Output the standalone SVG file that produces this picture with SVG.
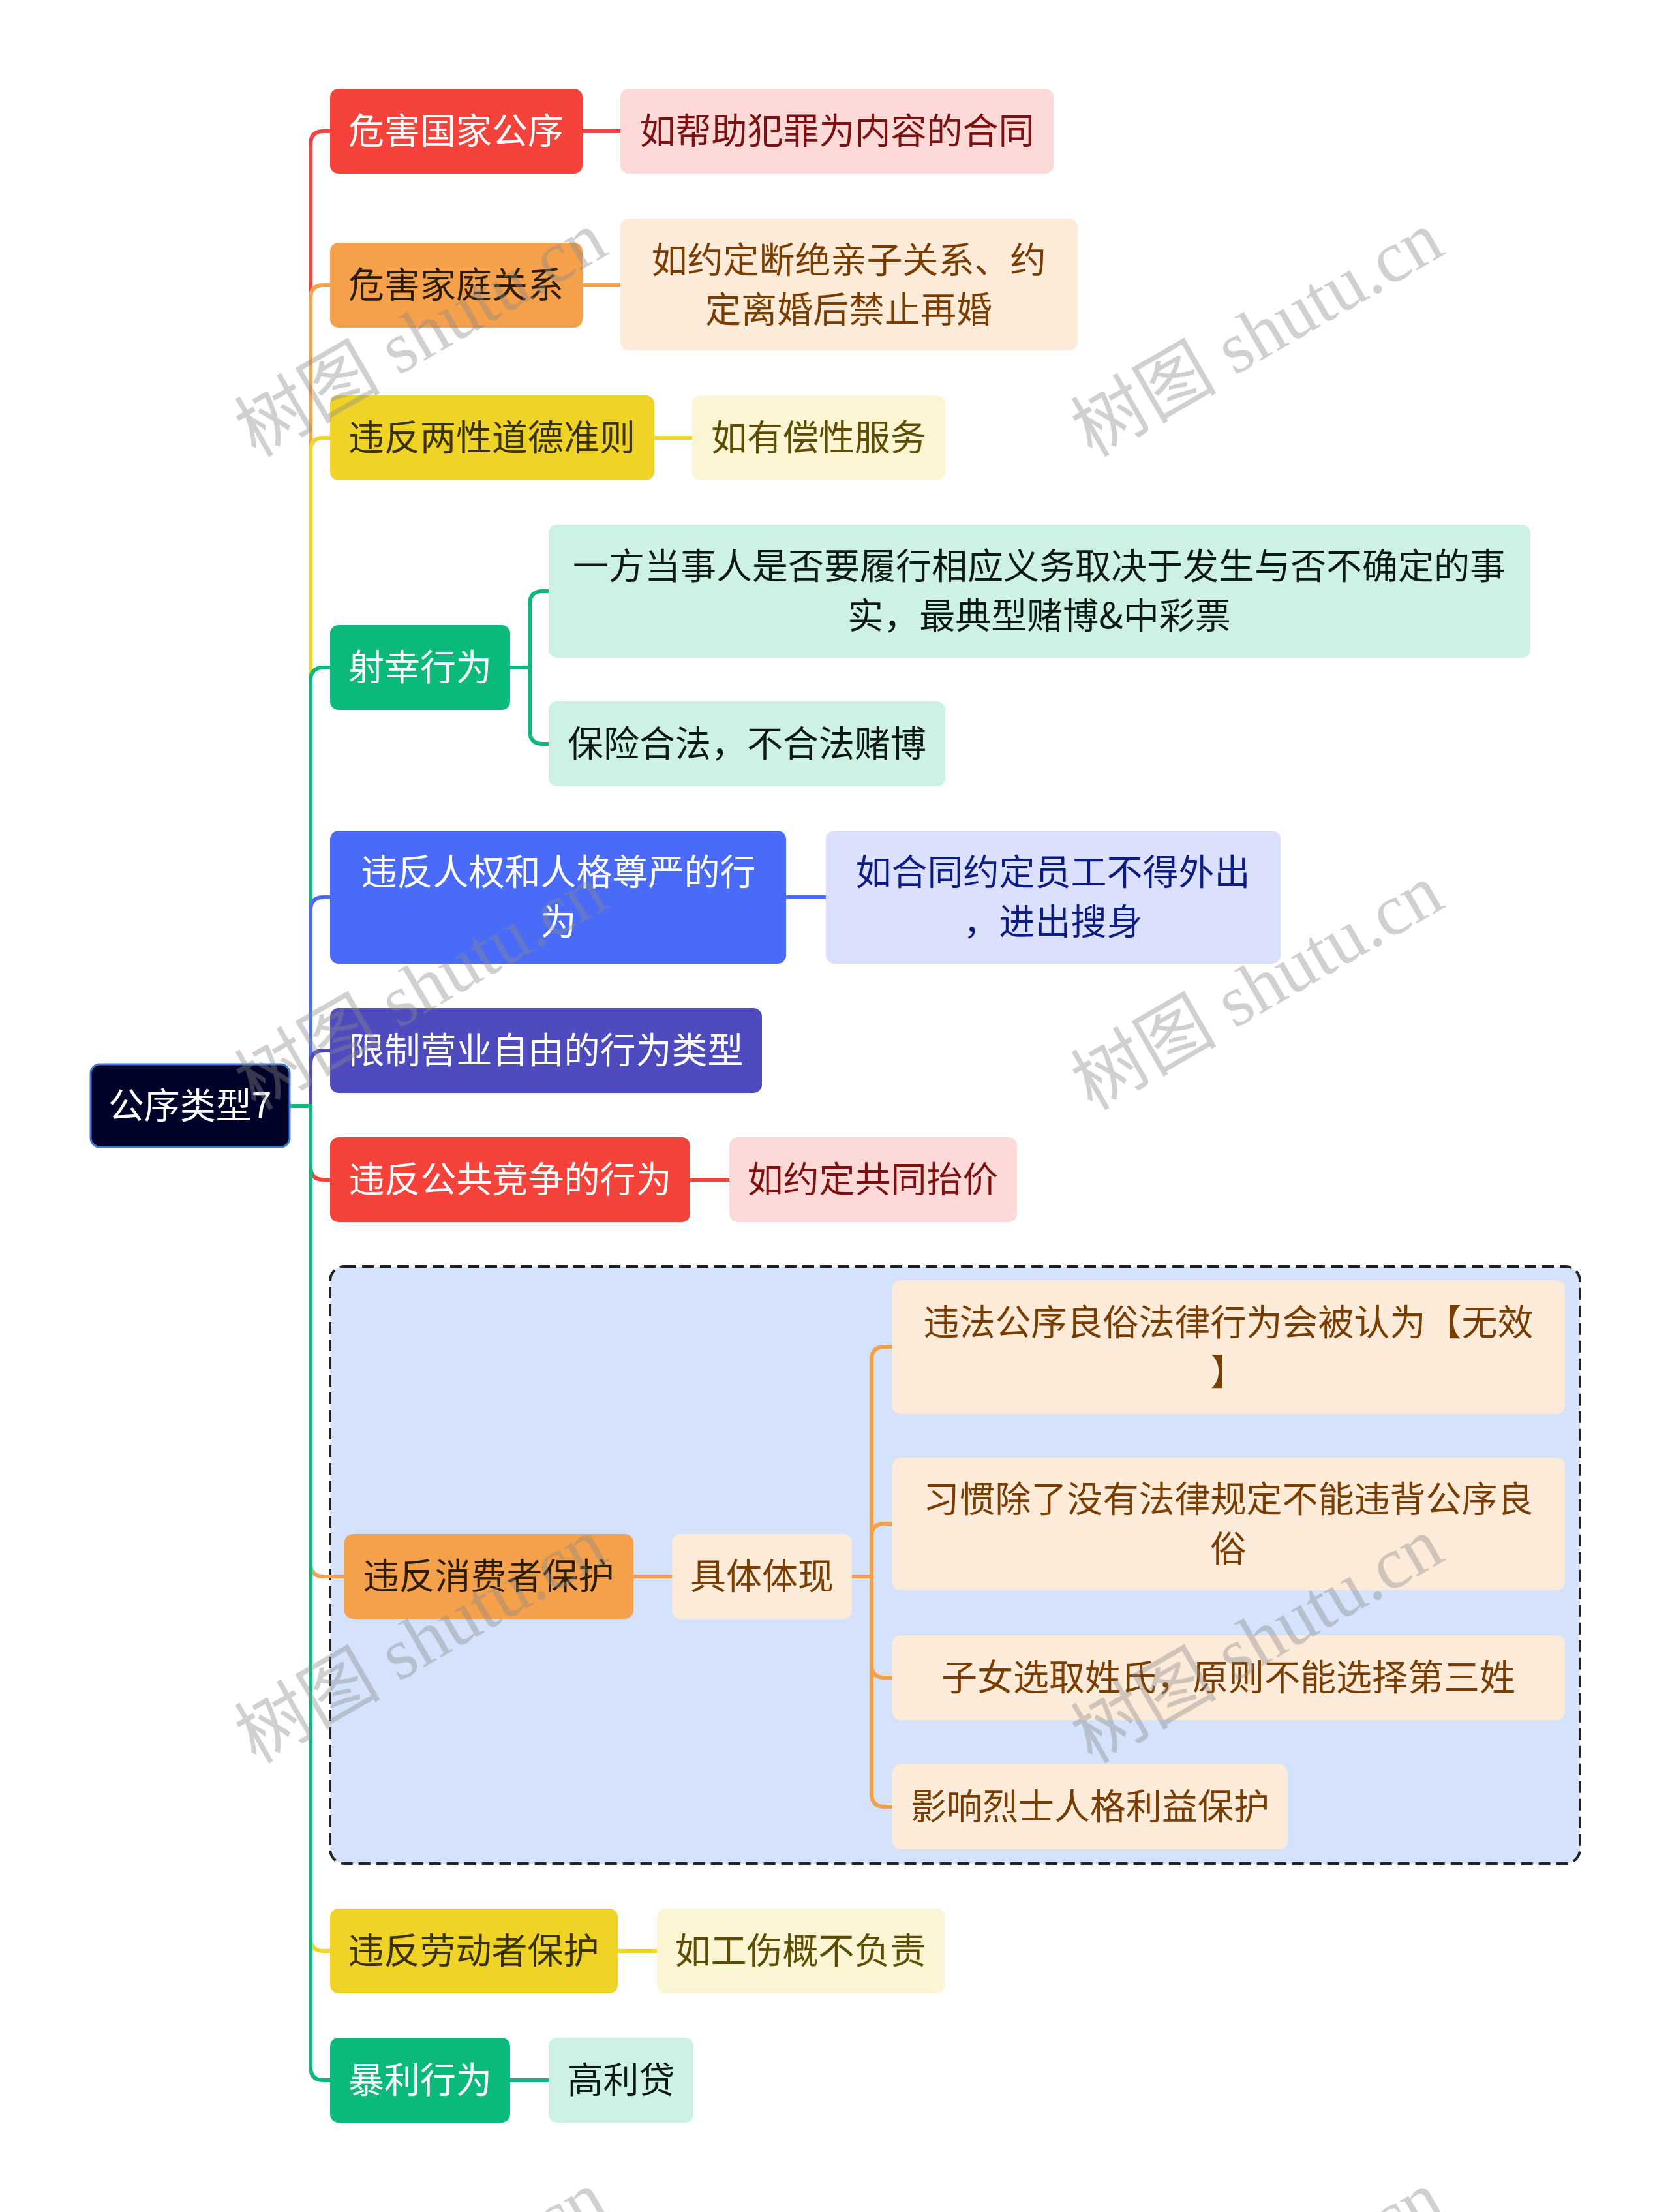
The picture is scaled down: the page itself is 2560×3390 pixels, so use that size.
<svg xmlns="http://www.w3.org/2000/svg" width="2560" height="3390" viewBox="0 0 2560 3390">
<style>
text{font-family:"Noto Sans CJK SC","Noto Sans",sans-serif;font-size:55px;text-anchor:middle;dominant-baseline:central}
.lk{fill:none;stroke-width:6;stroke-linejoin:round;stroke-linecap:butt}
.wm text{font-family:"Liberation Serif","Noto Sans CJK SC",serif;font-size:112px;fill:#8a8a8a;fill-opacity:0.4}
.w{fill:#fff}
</style>
<rect width="2560" height="3390" fill="#fff"/>

<g id="group-consumer">
<rect x="506" y="1941" width="1916" height="915" rx="22" fill="#d4e3fb" stroke="#222" stroke-width="4" stroke-dasharray="18 9"/>
</g>

<g id="connectors">
<path class="lk" stroke="#f5433b" d="M445 1695 H476 V221 Q476 201 496 201 H506"/>
<path class="lk" stroke="#f5433b" d="M893 201 H951"/>
<path class="lk" stroke="#f5a04b" d="M445 1695 H476 V457 Q476 437 496 437 H506"/>
<path class="lk" stroke="#f5a04b" d="M893 437 H951"/>
<path class="lk" stroke="#f0d327" d="M445 1695 H476 V691 Q476 671 496 671 H506"/>
<path class="lk" stroke="#f0d327" d="M1003 671 H1061"/>
<path class="lk" stroke="#0bb97a" d="M445 1695 H476 V1043 Q476 1023 496 1023 H506"/>
<path class="lk" stroke="#0bb97a" d="M782 1023 H812 V926 Q812 906 832 906 H841 M812 1023 V1120 Q812 1140 832 1140 H841"/>
<path class="lk" stroke="#4a6bf7" d="M445 1695 H476 V1395 Q476 1375 496 1375 H506"/>
<path class="lk" stroke="#4a6bf7" d="M1205 1375 H1266"/>
<path class="lk" stroke="#4e4bbe" d="M445 1695 H476 V1630 Q476 1610 496 1610 H506"/>
<path class="lk" stroke="#f5433b" d="M445 1695 H476 V1788 Q476 1808 496 1808 H506"/>
<path class="lk" stroke="#f5433b" d="M1058 1808 H1118"/>
<path class="lk" stroke="#f5a04b" d="M445 1695 H476 V2396 Q476 2416 496 2416 H528"/>
<path class="lk" stroke="#f5a04b" d="M971 2416 H1030"/>
<path class="lk" stroke="#f5a04b" d="M1306 2416 H1336 M1336 2416 V2084 Q1336 2064 1356 2064 H1368 M1336 2416 V2355 Q1336 2335 1356 2335 H1368 M1336 2416 V2551 Q1336 2571 1356 2571 H1368 M1336 2416 V2749 Q1336 2769 1356 2769 H1368"/>
<path class="lk" stroke="#f0d327" d="M445 1695 H476 V2970 Q476 2990 496 2990 H506"/>
<path class="lk" stroke="#f0d327" d="M947 2990 H1007"/>
<path class="lk" stroke="#0bb97a" d="M445 1695 H476 V3168 Q476 3188 496 3188 H506"/>
<path class="lk" stroke="#0bb97a" d="M782 3188 H841"/>
</g>

<g id="root">
<rect x="139" y="1631" width="305" height="127" rx="14" fill="#000229" stroke="#3d7ad6" stroke-width="3"/>
<text class="w" x="291" y="1690">公序类型7</text>
</g>

<g id="n1">
<rect x="506" y="136" width="387" height="130" rx="13" fill="#f5433b"/>
<text class="w" x="699" y="196">危害国家公序</text>
</g>
<g id="n1c">
<rect x="951" y="136" width="664" height="130" rx="13" fill="#fddad8"/>
<text x="1283" y="196" fill="#7d1010">如帮助犯罪为内容的合同</text>
</g>

<g id="n2">
<rect x="506" y="372" width="387" height="130" rx="13" fill="#f5a04b"/>
<text x="699" y="432" fill="#2e1d05">危害家庭关系</text>
</g>
<g id="n2c">
<rect x="951" y="335" width="701" height="202" rx="13" fill="#fdebda"/>
<text x="1301" y="394" fill="#7a3d00">如约定断绝亲子关系、约</text>
<text x="1301" y="470" fill="#7a3d00">定离婚后禁止再婚</text>
</g>

<g id="n3">
<rect x="506" y="606" width="497" height="130" rx="13" fill="#f0d327"/>
<text x="754" y="666" fill="#3a3205">违反两性道德准则</text>
</g>
<g id="n3c">
<rect x="1061" y="606" width="388" height="130" rx="13" fill="#fcf5d3"/>
<text x="1255" y="666" fill="#5c4d00">如有偿性服务</text>
</g>

<g id="n4">
<rect x="506" y="958" width="276" height="130" rx="13" fill="#0bb97a"/>
<text class="w" x="644" y="1018">射幸行为</text>
</g>
<g id="n4a">
<rect x="841" y="804" width="1505" height="204" rx="13" fill="#cdf1e2"/>
<text x="1593" y="863" fill="#0d1a14">一方当事人是否要履行相应义务取决于发生与否不确定的事</text>
<text x="1593" y="939" fill="#0d1a14">实，最典型赌博&amp;中彩票</text>
</g>
<g id="n4b">
<rect x="841" y="1075" width="608" height="130" rx="13" fill="#cdf1e2"/>
<text x="1145" y="1135" fill="#0d1a14">保险合法，不合法赌博</text>
</g>

<g id="n5">
<rect x="506" y="1273" width="699" height="204" rx="13" fill="#4a6bf7"/>
<text class="w" x="856" y="1332">违反人权和人格尊严的行</text>
<text class="w" x="856" y="1408">为</text>
</g>
<g id="n5c">
<rect x="1266" y="1273" width="697" height="204" rx="13" fill="#dbe1fd"/>
<text x="1614" y="1332" fill="#0c1c83">如合同约定员工不得外出</text>
<text x="1614" y="1408" fill="#0c1c83">，进出搜身</text>
</g>

<g id="n6">
<rect x="506" y="1545" width="662" height="130" rx="13" fill="#4e4bbe"/>
<text class="w" x="837" y="1605">限制营业自由的行为类型</text>
</g>

<g id="n7">
<rect x="506" y="1743" width="552" height="130" rx="13" fill="#f5433b"/>
<text class="w" x="782" y="1803">违反公共竞争的行为</text>
</g>
<g id="n7c">
<rect x="1118" y="1743" width="441" height="130" rx="13" fill="#fddad8"/>
<text x="1338" y="1803" fill="#7d1010">如约定共同抬价</text>
</g>

<g id="n8">
<rect x="528" y="2351" width="443" height="130" rx="13" fill="#f5a04b"/>
<text x="749" y="2411" fill="#2e1d05">违反消费者保护</text>
</g>
<g id="n8m">
<rect x="1030" y="2351" width="276" height="130" rx="13" fill="#fdebda"/>
<text x="1168" y="2411" fill="#7a3d00">具体体现</text>
</g>
<g id="n8a">
<rect x="1368" y="1962" width="1031" height="205" rx="13" fill="#fdebda"/>
<text x="1883" y="2022" fill="#7a3d00">违法公序良俗法律行为会被认为【无效</text>
<text x="1883" y="2098" fill="#7a3d00">】</text>
</g>
<g id="n8b">
<rect x="1368" y="2234" width="1031" height="203" rx="13" fill="#fdebda"/>
<text x="1883" y="2293" fill="#7a3d00">习惯除了没有法律规定不能违背公序良</text>
<text x="1883" y="2369" fill="#7a3d00">俗</text>
</g>
<g id="n8c">
<rect x="1368" y="2506" width="1031" height="130" rx="13" fill="#fdebda"/>
<text x="1883" y="2566" fill="#7a3d00">子女选取姓氏，原则不能选择第三姓</text>
</g>
<g id="n8d">
<rect x="1368" y="2704" width="606" height="130" rx="13" fill="#fdebda"/>
<text x="1671" y="2764" fill="#7a3d00">影响烈士人格利益保护</text>
</g>

<g id="n9">
<rect x="506" y="2925" width="441" height="130" rx="13" fill="#f0d327"/>
<text x="726" y="2985" fill="#3a3205">违反劳动者保护</text>
</g>
<g id="n9c">
<rect x="1007" y="2925" width="441" height="130" rx="13" fill="#fcf5d3"/>
<text x="1227" y="2985" fill="#5c4d00">如工伤概不负责</text>
</g>

<g id="n10">
<rect x="506" y="3123" width="276" height="130" rx="13" fill="#0bb97a"/>
<text class="w" x="644" y="3183">暴利行为</text>
</g>
<g id="n10c">
<rect x="841" y="3123" width="222" height="130" rx="13" fill="#cdf1e2"/>
<text x="952" y="3183" fill="#0d1a14">高利贷</text>
</g>

<g class="wm" id="watermark">
<text transform="translate(645 512) rotate(-30)">树图 shutu.cn</text>
<text transform="translate(1927 512) rotate(-30)">树图 shutu.cn</text>
<text transform="translate(645 1513) rotate(-30)">树图 shutu.cn</text>
<text transform="translate(1927 1513) rotate(-30)">树图 shutu.cn</text>
<text transform="translate(645 2514) rotate(-30)">树图 shutu.cn</text>
<text transform="translate(1927 2514) rotate(-30)">树图 shutu.cn</text>
<text transform="translate(645 3515) rotate(-30)">树图 shutu.cn</text>
<text transform="translate(1927 3515) rotate(-30)">树图 shutu.cn</text>
</g>
</svg>
